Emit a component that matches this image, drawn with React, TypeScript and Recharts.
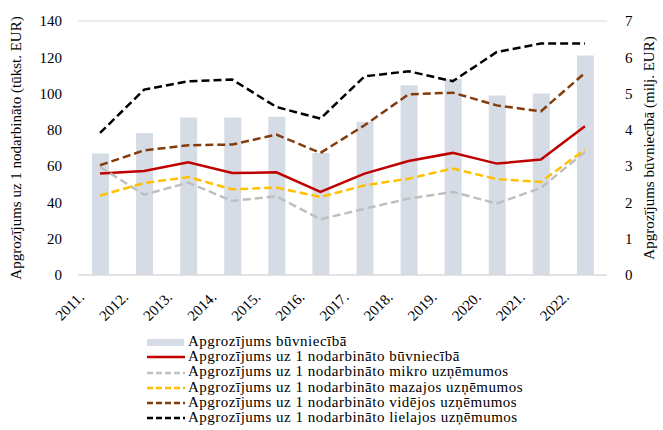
import {
  ComposedChart,
  Bar,
  Line,
  XAxis,
  YAxis,
  CartesianGrid,
} from "recharts";

const years = [
  "2011.", "2012.", "2013.", "2014.", "2015.", "2016.",
  "2017.", "2018.", "2019.", "2020.", "2021.", "2022.",
];

// milj. EUR (right axis)
const turnover = [3.35, 3.91, 4.34, 4.34, 4.36, 3.36, 4.22, 5.23, 5.4, 4.95, 5.0, 6.05];

// tūkst. EUR per employee (left axis)
const perEmployee = [55.9, 57.3, 62.1, 56.2, 56.6, 45.8, 55.9, 62.8, 67.3, 61.4, 63.6, 82.0];
const micro = [59.5, 44.3, 50.9, 40.8, 43.4, 30.7, 36.5, 42.1, 45.8, 39.4, 48.0, 67.8];
const small = [43.8, 50.7, 54.0, 47.2, 48.2, 43.0, 49.4, 53.1, 58.7, 52.8, 51.3, 69.1];
const medium = [60.5, 68.7, 71.5, 71.9, 77.4, 67.3, 82.5, 99.6, 100.5, 93.5, 90.2, 111.4];
const large = [78.3, 102.2, 106.8, 107.7, 92.6, 86.2, 109.5, 112.3, 106.8, 122.9, 127.6, 127.6];

const leftTicks = [0, 20, 40, 60, 80, 100, 120, 140];
const rightTicks = [0, 1, 2, 3, 4, 5, 6, 7];

const data = years.map((year, i) => ({
  year,
  turnover: turnover[i],
  perEmployee: perEmployee[i],
  micro: micro[i],
  small: small[i],
  medium: medium[i],
  large: large[i],
}));

const FONT = "Times New Roman, Liberation Serif, DejaVu Serif, serif";
const BAR_COLOR = "#d6dce5";

const lines = [
  { key: "perEmployee", name: "Apgrozījums uz 1 nodarbināto būvniecībā", color: "#c00000", dash: undefined },
  { key: "micro", name: "Apgrozījums uz 1 nodarbināto mikro uzņēmumos", color: "#bfbfbf", dash: "8 4" },
  { key: "small", name: "Apgrozījums uz 1 nodarbināto mazajos uzņēmumos", color: "#ffc000", dash: "8 4" },
  { key: "medium", name: "Apgrozījums uz 1 nodarbināto vidējos uzņēmumos", color: "#843c0c", dash: "8 4" },
  { key: "large", name: "Apgrozījums uz 1 nodarbināto lielajos uzņēmumos", color: "#000000", dash: "8 4" },
];

function YearTick({ x, y, payload }: any) {
  const ax = x - 15;
  const ay = y + 15;
  return (
    <text
      x={ax}
      y={ay}
      transform={`rotate(-45 ${ax} ${ay})`}
      textAnchor="end"
      style={{ fontFamily: FONT }}
      fontSize={15}
      fill="#000"
    >
      {payload.value}
    </text>
  );
}

function ChartLegend() {
  return (
    <div
      style={{
        position: "absolute",
        left: 147,
        top: 334,
        fontFamily: FONT,
        fontSize: 15,
        letterSpacing: "0.5px",
        lineHeight: "15.2px",
        color: "#000",
      }}
    >
      <div style={{ display: "flex", alignItems: "center" }}>
        <svg width={41} height={15}>
          <rect x={0} y={5} width={37} height={7} fill={BAR_COLOR} />
        </svg>
        <span>Apgrozījums būvniecībā</span>
      </div>
      {lines.map((l) => (
        <div key={l.key} style={{ display: "flex", alignItems: "center" }}>
          <svg width={41} height={15}>
            <line
              x1={0}
              x2={38}
              y1={8}
              y2={8}
              stroke={l.color}
              strokeWidth={2.5}
              strokeDasharray={l.dash ? "6 3" : undefined}
            />
          </svg>
          <span>{l.name}</span>
        </div>
      ))}
    </div>
  );
}

export default function App() {
  return (
    <div
      style={{
        position: "absolute",
        left: 0,
        top: 0,
        width: 663,
        height: 430,
        background: "#fff",
        fontFamily: FONT,
      }}
    >
      <ComposedChart
        width={663}
        height={340}
        data={data}
        margin={{ top: 21, right: 0, bottom: 0, left: 0 }}
        barSize={17}
        style={{ fontFamily: FONT }}
      >
        <CartesianGrid vertical={false} stroke="#d9d9d9" strokeWidth={1} />
        <XAxis
          dataKey="year"
          height={65}
          axisLine={{ stroke: "#d9d9d9" }}
          tickLine={false}
          tick={<YearTick />}
          interval={0}
        />
        <YAxis
          yAxisId="left"
          width={78}
          domain={[0, 140]}
          ticks={leftTicks}
          axisLine={false}
          tickLine={false}
          tickMargin={10}
          tick={{ fontSize: 15, fill: "#000", style: { fontFamily: FONT } }}
          label={{
            value: "Apgrozījums uz 1 nodarbināto (tūkst. EUR)",
            angle: -90,
            position: "insideLeft",
            offset: 16,
            style: { textAnchor: "middle", fontFamily: FONT, fontSize: 15, fill: "#000" },
          }}
        />
        <YAxis
          yAxisId="right"
          orientation="right"
          width={56}
          domain={[0, 7]}
          ticks={rightTicks}
          axisLine={false}
          tickLine={false}
          tickMargin={12}
          tick={{ fontSize: 15, fill: "#000", style: { fontFamily: FONT } }}
          label={{
            value: "Apgrozījums būvniecībā (milj. EUR)",
            angle: -90,
            position: "insideRight",
            offset: 14,
            style: { textAnchor: "middle", fontFamily: FONT, fontSize: 15, fill: "#000" },
          }}
        />
        <Bar
          yAxisId="right"
          dataKey="turnover"
          name="Apgrozījums būvniecībā"
          fill={BAR_COLOR}
          isAnimationActive={false}
        />
        {lines.map((l) => (
          <Line
            key={l.key}
            yAxisId="left"
            type="linear"
            dataKey={l.key}
            name={l.name}
            stroke={l.color}
            strokeWidth={2.5}
            strokeDasharray={l.dash}
            dot={false}
            activeDot={false}
            isAnimationActive={false}
          />
        ))}
      </ComposedChart>
      <ChartLegend />
    </div>
  );
}
